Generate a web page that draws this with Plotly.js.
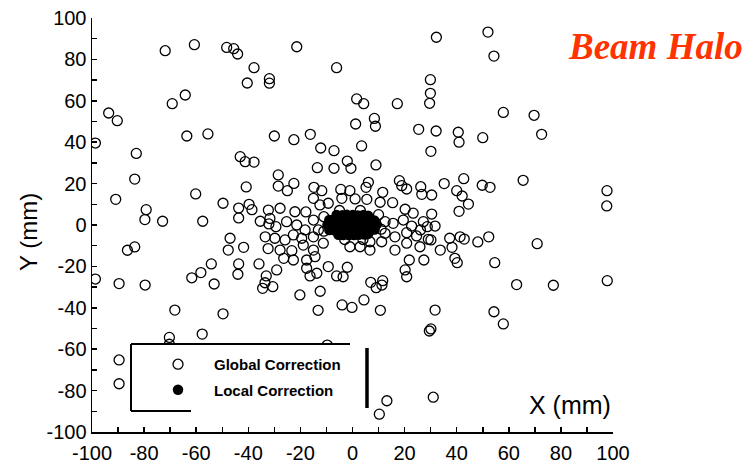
<!DOCTYPE html>
<html><head><meta charset="utf-8">
<script src="https://cdn.plot.ly/plotly-3.0.1.min.js"></script>
<style>html,body{margin:0;padding:0;background:#fff}#chart{width:754px;height:468px}</style>
</head><body><div id="chart"></div>
<script>
const globalX = [-71.9,-60.7,-48.3,-45.6,-44.1,-37.8,-40.4,-31.9,-31.9,-64.2,-69.2,-93.6,-90.3,-63.6,-55.5,-98.7,-83.0,-43.1,
-21.4,-6.1,32.2,1.6,4.3,17.2,29.9,29.9,29.6,1.2,8.4,8.8,25.4,32.1,-30.0,-22.5,-16.2,-12.2,-7.1,3.5,30.1,
52.0,54.3,57.9,69.7,40.6,40.9,50.0,72.6,
35.2,42.7,49.8,52.8,65.5,40.0,42.1,44.5,40.9,30.4,30.4,31.7,30.1,37.3,41.3,42.9,48.1,52.3,38.2,33.7,39.3,40.2,54.6,70.9,97.7,97.6,97.8,63.0,77.1,
31.7,29.5,30.1,54.3,57.9,31.0,
-30.6,-34.5,-20.2,-12.4,-13.2,-4.0,-0.2,4.4,10.7,9.1,11.3,-9.7,13.2,10.3,
-89.6,-79.6,-53.1,-68.2,-49.7,-70.3,-70.3,-57.7,-89.6,-89.6,
-41.2,-37.8,-83.6,-40.8,-90.9,-79.2,-79.7,-72.9,-60.2,-49.7,-43.7,-39.7,-38.6,-43.7,-57.5,-35.4,-32.1,-47.0,-33.5,-47.7,-41.8,-32.4,-83.6,-86.4,-54.2,-43.7,-35.9,-58.2,-61.7,-44.0,-33.1,-98.7,
-13.5,-7.1,-2.0,-0.6,9.0,-28.5,-28.5,-25.0,-22.5,-14.8,-11.8,-4.5,-1.0,6.1,5.2,11.6,18.0,18.9,20.8,26.2,26.6,
-15.0,-9.3,-4.1,1.0,5.5,10.6,15.4,-32.3,-27.8,-22.1,-17.9,-12.5,20.2,23.3,27.2,
-31.7,-29.4,-25.3,-21.4,-18.2,-15.0,-13.1,-29.8,-25.9,-22.7,-19.5,-15.0,-27.8,-23.3,-18.9,-15.0,-11.2,-26.4,-22.7,-17.6,-14.4,
-29.1,-17.6,-13.7,-9.3,-2.0,-33.6,-16.3,-6.1,-3.6,7.0,11.6,
12.5,15.6,19.5,22.7,26.1,28.7,12.5,16.3,20.8,24.6,29.1,6.7,11.2,16.3,20.8,25.9,2.9,-1.0,6.7,21.8,27.4,20.2,20.8,
-11.0,-11.0,10.0,11.0,3.0,-5.0,-3.0,4.0];
const globalY = [84.2,87.1,85.8,85.2,82.6,76.0,68.6,70.7,68.5,62.8,58.6,54.1,50.4,43.0,44.0,39.6,34.6,33.0,
86.1,76.0,90.7,60.9,58.6,58.6,70.2,63.6,58.8,48.8,51.5,47.7,46.2,45.4,43.0,41.2,43.8,37.2,35.9,38.2,35.6,
93.2,81.6,54.4,53.0,44.8,40.0,42.2,43.8,
20.0,22.4,19.2,18.2,21.6,16.6,14.0,10.1,6.6,14.5,5.3,-0.5,-7.2,-6.4,-5.7,-6.8,-8.2,-5.7,-10.8,-12.1,-16.1,-18.2,-18.2,-9.0,16.6,9.2,-26.9,-28.8,-29.1,
-41.1,-51.2,-50.2,-41.9,-47.8,-83.2,
-29.8,-30.6,-33.8,-32.0,-41.2,-38.6,-39.8,-36.2,-41.2,-30.3,-29.0,-58.0,-84.9,-91.4,
-28.3,-29.0,-28.5,-41.1,-42.9,-54.3,-57.6,-52.7,-65.2,-76.7,
30.6,30.4,22.2,18.4,12.4,7.4,2.6,1.8,15.0,10.5,8.2,10.0,7.4,3.4,1.8,1.8,0.5,-6.4,-5.7,-12.1,-10.8,-11.4,-10.6,-12.2,-18.8,-18.8,-18.8,-23.0,-25.5,-23.8,-24.6,-26.1,
27.7,27.4,30.9,27.4,29.0,24.2,18.8,16.6,20.1,18.2,16.6,17.2,16.6,20.6,18.2,15.8,21.4,19.0,17.4,18.5,14.8,
12.9,10.5,12.9,12.6,12.4,11.0,10.8,7.2,8.1,6.4,6.3,9.7,7.6,5.7,1.6,
3.2,-0.8,1.6,0.0,-2.4,2.4,-2.4,-6.4,-7.2,-4.8,-6.4,-5.7,-12.1,-12.4,-9.7,-12.1,-8.8,-16.1,-16.9,-16.9,-15.3,
-21.7,-20.9,-23.3,-20.1,-20.4,-27.9,-24.6,-24.6,-25.0,-27.7,-26.9,
1.6,0.8,2.4,-0.5,-2.4,-0.8,-4.0,-5.7,-3.7,-5.3,-6.9,-8.1,-8.1,-12.1,-8.8,-10.5,-10.5,-10.5,-12.1,-16.9,-16.9,-21.7,-25.0,
4.0,-3.0,5.0,-2.0,7.0,7.0,-7.0,-7.0];

const localX = [-6.1,-3.9,-2.2,0.1,2.0,4.2,6.0,
-8.9,-7.1,-5.0,-3.1,-0.9,1.1,3.0,5.2,7.0,8.4,
-9.6,-7.6,-5.4,-3.6,-1.4,0.4,2.6,4.4,6.6,8.4,9.3,
-8.9,-6.9,-5.1,-2.9,-1.1,1.0,3.1,4.9,7.1,8.5,
-5.4,-3.6,-1.4,0.6,2.4,4.6,6.0,
-6.2,-2.6,1.8,5.6,-4.4,3.3];
const localY = [4.8,4.7,4.9,4.8,4.6,4.8,4.5,
2.4,2.6,2.5,2.3,2.6,2.5,2.4,2.6,2.5,2.2,
0.1,-0.2,0.2,0.0,-0.1,0.2,0.0,-0.2,0.1,0.0,0.3,
-2.4,-2.6,-2.5,-2.3,-2.6,-2.4,-2.5,-2.6,-2.4,-2.2,
-4.7,-4.8,-4.9,-4.8,-4.7,-4.6,-4.3,
1.2,-1.3,1.1,-1.2,3.6,-3.7];

const tickVals = [-100,-80,-60,-40,-20,0,20,40,60,80,100];
const tickText = ['-100','-80','-60','-40','-20','0','20','40','60','80','100'];

const traces = [
  {x: globalX, y: globalY, type:'scatter', mode:'markers', name:'Global Correction', legendgroup:'g',
   marker:{symbol:'circle-open', size:10, color:'#000', line:{color:'#000', width:1.3}}},
  {x: localX, y: localY, type:'scatter', mode:'markers', name:'Local Correction', legendgroup:'l',
   marker:{symbol:'circle', size:10.5, color:'#000'}}
];

const axisCommon = {
  range:[-100,100], tickmode:'array', tickvals:tickVals, ticktext:tickText,
  ticks:'inside', ticklen:5, tickwidth:1.5, tickcolor:'#000',
  showline:true, linecolor:'#000', linewidth:1.5, showgrid:false, zeroline:false,
  tickfont:{family:'Liberation Sans, Arial, sans-serif', size:20, color:'#000'},
  minor:{dtick:10, ticks:'inside', ticklen:5, tickwidth:1.5, tickcolor:'#000', showgrid:false}
};

const layout = {
  width:754, height:468,
  margin:{l:92, r:141, t:18, b:36},
  paper_bgcolor:'#fff', plot_bgcolor:'#fff',
  xaxis: Object.assign({}, axisCommon, {tick0:-100, ticklabelstandoff:2}),
  yaxis: Object.assign({}, axisCommon, {tick0:-100}),
  showlegend:true,
  legend:{x:0.096, y:0.203, xanchor:'left', yanchor:'top', bgcolor:'rgba(0,0,0,0)', borderwidth:0,
    traceorder:'grouped', tracegroupgap:3, itemwidth:62,
    font:{family:'Liberation Sans, Arial, sans-serif', size:15, color:'#000', weight:'bold'}},
  shapes:[
    {type:'rect', xref:'paper', yref:'paper', x0:0.0749, x1:0.526, y0:0.0507, y1:0.2126, fillcolor:'#fff', line:{width:0}, layer:'above'},
    {type:'line', xref:'paper', yref:'paper', x0:0.0749, x1:0.0749, y0:0.0507, y1:0.2126, line:{color:'#000', width:2}, layer:'above'},
    {type:'line', xref:'paper', yref:'paper', x0:0.0749, x1:0.4952, y0:0.2126, y1:0.2126, line:{color:'#000', width:2}, layer:'above'},
    {type:'line', xref:'paper', yref:'paper', x0:0.0749, x1:0.19, y0:0.0507, y1:0.0507, line:{color:'#000', width:2}, layer:'above'},
    {type:'line', xref:'paper', yref:'paper', x0:0.5278, x1:0.5278, y0:0.058, y1:0.2029, line:{color:'#000', width:3.5}, layer:'above'}
  ],
  annotations:[
    {text:'Y (mm)', xref:'paper', yref:'paper', x:-0.1228, y:0.483, textangle:-90, showarrow:false,
     xanchor:'center', yanchor:'middle', font:{family:'Liberation Sans, Arial, sans-serif', size:24, color:'#000'}},
    {text:'X (mm)', xref:'paper', yref:'paper', x:1.0, y:0.065, showarrow:false,
     xanchor:'right', yanchor:'middle', font:{family:'Liberation Sans, Arial, sans-serif', size:25, color:'#000'}},
    {text:'<b><i>Beam Halo</i></b>', xref:'paper', yref:'paper', x:1.0825, y:0.932, showarrow:false,
     xanchor:'center', yanchor:'middle', font:{family:'Liberation Serif, Times New Roman, serif', size:37, color:'#FF3300'}}
  ]
};

Plotly.newPlot('chart', traces, layout, {displayModeBar:false, staticPlot:true});
</script>
</body></html>
